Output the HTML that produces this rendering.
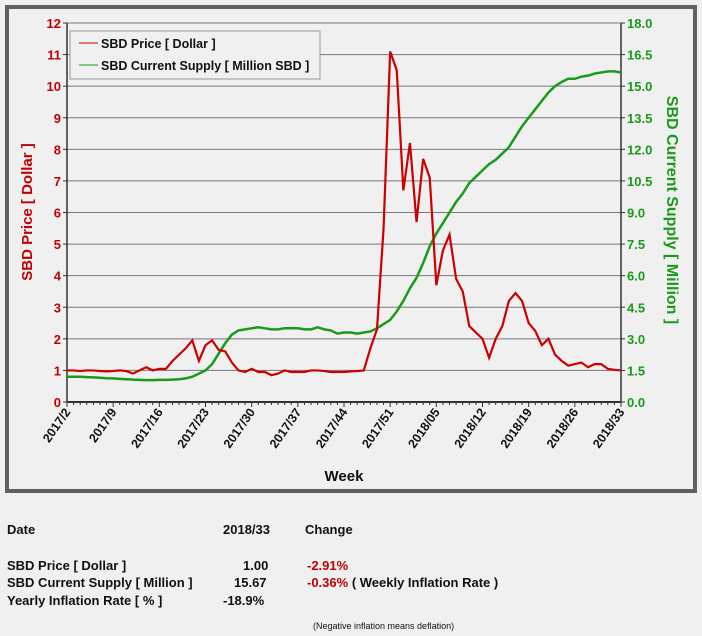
<!DOCTYPE html>
<html><head><meta charset="utf-8"><style>
body{margin:0;background:#f0f0f0;font-family:"Liberation Sans",sans-serif;}
#wrap{position:relative;width:702px;height:636px;background:#f0f0f0;overflow:hidden}
.t{position:absolute;font-size:13px;font-weight:bold;color:#111;white-space:nowrap}
.r{color:#c00000}
</style></head><body>
<div id="wrap">
<svg id="chart" width="702" height="500" style="position:absolute;left:0;top:0" font-family="Liberation Sans, sans-serif"></svg>
<div class="t" style="left:7px;top:522px">Date</div>
<div class="t" style="left:223px;top:522px">2018/33</div>
<div class="t" style="left:305px;top:522px">Change</div>
<div class="t" style="left:7px;top:558px">SBD Price [ Dollar ]</div>
<div class="t" style="left:243px;top:558px">1.00</div>
<div class="t r" style="left:307px;top:558px">-2.91%</div>
<div class="t" style="left:7px;top:575px">SBD Current Supply [ Million ]</div>
<div class="t" style="left:234px;top:575px">15.67</div>
<div class="t" style="left:307px;top:575px"><span class="r">-0.36%</span> ( Weekly Inflation Rate )</div>
<div class="t" style="left:7px;top:593px">Yearly Inflation Rate [ % ]</div>
<div class="t" style="left:223px;top:593px">-18.9%</div>
<div class="t" style="left:313px;top:621px;font-size:9px;font-weight:normal">(Negative inflation means deflation)</div>
</div>
<script>
const xLabels=["2017/2","2017/9","2017/16","2017/23","2017/30","2017/37","2017/44","2017/51","2018/05","2018/12","2018/19","2018/26","2018/33"];
const leftTicks=[0,1,2,3,4,5,6,7,8,9,10,11,12];
const rightTicks=["0.0","1.5","3.0","4.5","6.0","7.5","9.0","10.5","12.0","13.5","15.0","16.5","18.0"];
const price=[1.0,1.0,0.98,1.0,1.0,0.98,0.97,0.98,1.0,0.98,0.9,1.0,1.1,1.0,1.05,1.05,1.3,1.5,1.7,1.95,1.3,1.8,1.95,1.65,1.6,1.25,1.0,0.95,1.05,0.95,0.95,0.85,0.9,1.0,0.95,0.95,0.95,1.0,1.0,0.98,0.95,0.95,0.95,0.97,0.98,1.0,1.7,2.3,5.5,11.1,10.5,6.7,8.2,5.7,7.7,7.1,3.7,4.8,5.3,3.9,3.5,2.4,2.2,2.0,1.4,2.0,2.4,3.2,3.45,3.2,2.5,2.25,1.8,2.0,1.5,1.3,1.15,1.2,1.25,1.1,1.2,1.2,1.05,1.02,1.0];
const supply=[1.2,1.2,1.2,1.18,1.17,1.15,1.13,1.12,1.1,1.08,1.06,1.05,1.04,1.04,1.05,1.05,1.06,1.08,1.12,1.2,1.35,1.5,1.8,2.3,2.8,3.2,3.4,3.45,3.5,3.55,3.5,3.45,3.45,3.5,3.5,3.5,3.45,3.45,3.55,3.45,3.4,3.25,3.3,3.3,3.25,3.3,3.35,3.5,3.7,3.9,4.3,4.8,5.4,5.9,6.6,7.4,8.0,8.5,9.0,9.5,9.9,10.4,10.7,11.0,11.3,11.5,11.8,12.1,12.6,13.1,13.5,13.9,14.3,14.7,15.0,15.2,15.35,15.35,15.45,15.5,15.6,15.65,15.7,15.7,15.65];
const X0=67,X1=621,Y0=402,Y1=23,N=84;
const sx=i=>X0+(X1-X0)*i/N;
const syL=v=>Y0-(Y0-Y1)*v/12;
const syR=v=>Y0-(Y0-Y1)*v/18;
const svg=document.getElementById('chart');
const NS='http://www.w3.org/2000/svg';
function mk(tag,a,txt){const e=document.createElementNS(NS,tag);for(const k in a)e.setAttribute(k,a[k]);if(txt!==undefined)e.textContent=txt;svg.appendChild(e);return e;}
let e;
e=mk('rect',{x:7,y:7,width:688,height:484,fill:'#f0f0f0',stroke:'#606060','stroke-width':4});


leftTicks.forEach((v,i)=>{
 const y=syL(v);
 if(v>0){e=mk('line',{x1:X0,x2:X1,y1:y,y2:y,stroke:'#777','stroke-width':1});
 
 }
 mk('line',{x1:X0-4,x2:X0,y1:y,y2:y,stroke:'#333'});
 mk('line',{x1:X1,x2:X1+4,y1:y,y2:y,stroke:'#333'});
 e=mk('text',{x:X0-6,y:y+5,'text-anchor':'end','font-size':13,'font-weight':'bold',fill:'#c00000'},v);
 
 
 e=mk('text',{x:X1+6,y:y+5,'font-size':13,'font-weight':'bold',fill:'#1a9a1a'},rightTicks[i]);
 
 
});
e=mk('line',{x1:X0,x2:X0,y1:Y1,y2:Y0,stroke:'#333','stroke-width':1.5});


e=mk('line',{x1:X1,x2:X1,y1:Y1,y2:Y0,stroke:'#333','stroke-width':1.5});


e=mk('line',{x1:X0,x2:X1,y1:Y0,y2:Y0,stroke:'#333','stroke-width':2});


for(let i=0;i<=N;i++){mk('line',{x1:sx(i),x2:sx(i),y1:Y0,y2:Y0+(i%7==0?5:3),stroke:'#333'});}
xLabels.forEach((l,k)=>{
 const x=sx(k*7);
 e=mk('text',{x:x+4,y:Y0+10,'text-anchor':'end','font-size':12.5,'font-weight':'bold',fill:'#111',transform:`rotate(-55 ${x+4} ${Y0+10})`},l);
 
 
});
e=mk('polyline',{points:supply.map((v,i)=>sx(i)+','+syR(v)).join(' '),fill:'none',stroke:'#1a9a1a','stroke-width':2.5});


e=mk('polyline',{points:price.map((v,i)=>sx(i)+','+syL(v)).join(' '),fill:'none',stroke:'#cc0000','stroke-width':2.2});


e=mk('text',{x:344,y:481,'text-anchor':'middle','font-size':15,'font-weight':'bold',fill:'#111'},'Week');


e=mk('text',{x:32,y:212,'text-anchor':'middle','font-size':15,'font-weight':'bold',fill:'#c00000',transform:'rotate(-90 32 212)'},'SBD Price [ Dollar ]');


e=mk('text',{x:667,y:210,'text-anchor':'middle','font-size':16,'font-weight':'bold',fill:'#1a9a1a',transform:'rotate(90 667 210)'},'SBD Current Supply [ Million ]');


e=mk('rect',{x:70,y:31,width:250,height:48,fill:'#f0f0f0',stroke:'#999'});


mk('line',{x1:79,x2:98,y1:43,y2:43,stroke:'#cc0000'});
e=mk('text',{x:101,y:48,'font-size':12.5,'font-weight':'bold',fill:'#111'},'SBD Price [ Dollar ]');


mk('line',{x1:79,x2:98,y1:65,y2:65,stroke:'#1a9a1a'});
e=mk('text',{x:101,y:70,'font-size':12.5,'font-weight':'bold',fill:'#111'},'SBD Current Supply [ Million SBD ]');


</script>
</body></html>
